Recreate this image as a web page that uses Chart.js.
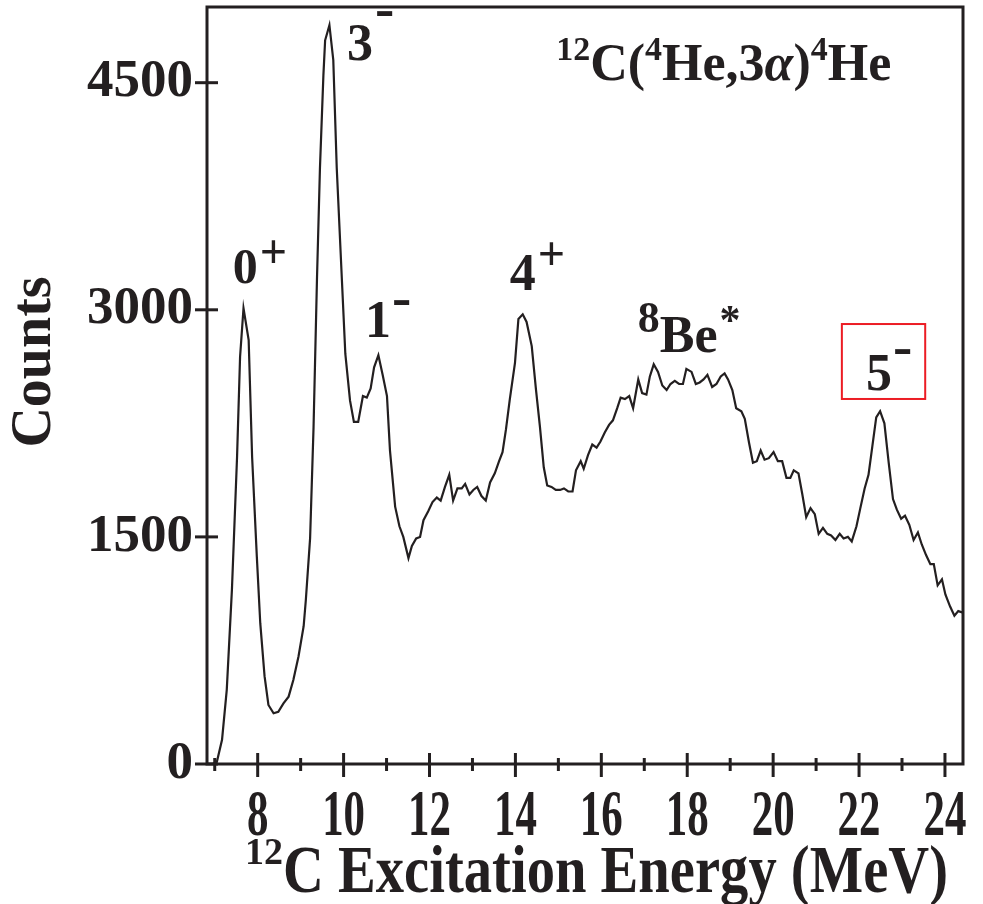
<!DOCTYPE html>
<html>
<head>
<meta charset="utf-8">
<script src="https://cdn.jsdelivr.net/npm/chart.js@4.4.1/dist/chart.umd.min.js"></script>
<style>
  html, body { margin: 0; padding: 0; background: #fff; }
  canvas { display: block; }
</style>
</head>
<body>
<canvas id="spectrum" width="983" height="904"></canvas>
<script>
// 12C excitation energy (MeV) and counts
const energies = [
  6.96, 7.05, 7.17, 7.28, 7.40, 7.52, 7.59, 7.67, 7.79, 7.87, 7.98, 8.06, 8.16, 8.25, 8.37, 8.48,
  8.60, 8.72, 8.83, 8.95, 9.07, 9.12, 9.22, 9.30, 9.38, 9.45, 9.53, 9.57, 9.67, 9.76, 9.84, 9.96,
  10.04, 10.15, 10.24, 10.34, 10.45, 10.54, 10.63, 10.71, 10.81, 10.91, 11.01, 11.08, 11.20, 11.30,
  11.39, 11.51, 11.59, 11.69, 11.78, 11.86, 11.97, 12.07, 12.17, 12.26, 12.36, 12.46, 12.55, 12.65,
  12.75, 12.83, 12.93, 13.02, 13.11, 13.21, 13.31, 13.41, 13.52, 13.62, 13.70, 13.78, 13.87, 13.99,
  14.07, 14.17, 14.26, 14.38, 14.48, 14.57, 14.66, 14.74, 14.84, 14.94, 15.04, 15.13, 15.23, 15.33,
  15.41, 15.52, 15.59, 15.69, 15.79, 15.89, 15.98, 16.08, 16.18, 16.27, 16.37, 16.45, 16.55, 16.65,
  16.74, 16.86, 16.95, 17.05, 17.13, 17.22, 17.32, 17.42, 17.52, 17.61, 17.71, 17.81, 17.90, 17.98,
  18.10, 18.20, 18.29, 18.38, 18.47, 18.58, 18.68, 18.78, 18.87, 18.95, 19.05, 19.14, 19.26, 19.34,
  19.44, 19.53, 19.62, 19.71, 19.80, 19.90, 20.01, 20.11, 20.21, 20.31, 20.40, 20.48, 20.59, 20.68,
  20.77, 20.87, 20.97, 21.06, 21.16, 21.26, 21.35, 21.45, 21.55, 21.64, 21.74, 21.83, 21.94, 22.03,
  22.13, 22.22, 22.31, 22.40, 22.49, 22.59, 22.69, 22.79, 22.88, 22.98, 23.07, 23.17, 23.27, 23.37,
  23.46, 23.56, 23.66, 23.74, 23.83, 23.93, 24.01, 24.12, 24.22, 24.31, 24.42
];
const counts = [
  0, 15, 160, 490, 1150, 2030, 2690, 3010, 2800, 2030, 1370, 930, 580, 390, 335, 345,
  400, 445, 555, 710, 910, 1080, 1490, 2220, 3200, 3940, 4550, 4780, 4880, 4650, 3940, 3200,
  2710, 2400, 2260, 2260, 2430, 2420, 2480, 2620, 2700, 2570, 2430, 2070, 1700, 1570,
  1500, 1360, 1440, 1490, 1500, 1610, 1670, 1730, 1760, 1740, 1830, 1910, 1740, 1820,
  1820, 1850, 1780, 1810, 1830, 1770, 1740, 1860, 1920, 2000, 2060, 2210, 2410, 2650,
  2940, 2970, 2920, 2760, 2470, 2230, 1960, 1840, 1830, 1810, 1810, 1820, 1800, 1800,
  1940, 2000, 1950, 2040, 2110, 2090, 2130, 2190, 2240, 2270, 2350, 2420, 2410, 2430,
  2350, 2540, 2450, 2440, 2560, 2640, 2590, 2500, 2470, 2510, 2530, 2510, 2510, 2610,
  2590, 2510, 2520, 2540, 2570, 2490, 2510, 2560, 2580, 2540, 2470, 2350, 2330, 2280,
  2120, 1990, 2000, 2070, 2010, 2020, 2060, 2000, 2000, 1890, 1890, 1940, 1920, 1780,
  1630, 1690, 1650, 1520, 1560, 1520, 1510, 1480, 1520, 1490, 1500, 1470, 1570, 1690,
  1820, 1910, 2100, 2290, 2330, 2250, 1990, 1750, 1680, 1620, 1640, 1580, 1480, 1530,
  1450, 1380, 1320, 1320, 1180, 1220, 1120, 1040, 980, 1010, 1000
];

const xRange = [6.82, 24.42];
const yRange = [0, 5000];
const yTickValues = [0, 1500, 3000, 4500];
const xLabelValues = [8, 10, 12, 14, 16, 18, 20, 22, 24];
const xMinorValues = [7, 9, 11, 13, 15, 17, 19, 21, 23];

const INK = '#231f20';
const SERIF = '"Liberation Serif", "Times New Roman", serif';

// state labels, anchored in data coordinates (left edge, baseline)
const peakLabels = [
  { at: [7.42, 3180], runs: [{ t: '0', size: 50 }, { t: '+', size: 48, dy: -15, dx: 2 }] },
  { at: [10.08, 4650], runs: [{ t: '3', size: 52 }, { t: '-', size: 58, dy: -33, dx: 2 }] },
  { at: [10.50, 2820], runs: [{ t: '1', size: 52 }, { t: '-', size: 58, dy: -21, dx: 1 }] },
  { at: [13.87, 3130], runs: [{ t: '4', size: 52 }, { t: '+', size: 48, dy: -20, dx: 2 }] },
  { at: [16.85, 2720], runs: [{ t: '8', size: 44, dy: -20 }, { t: 'Be', size: 52 }, { t: '*', size: 42, dy: -18, dx: 2 }] },
  { at: [22.16, 2470], runs: [{ t: '5', size: 52 }, { t: '-', size: 58, dy: -25, dx: 1 }] }
];
const reactionLabel = {
  at: [14.95, 4518],
  runs: [
    { t: '12', size: 34, dy: -20 }, { t: 'C(', size: 52 }, { t: '4', size: 34, dy: -20 },
    { t: 'He,3', size: 52 }, { t: 'α', size: 52, italic: true }, { t: ')', size: 52 },
    { t: '4', size: 34, dy: -20 }, { t: 'He', size: 52 }
  ]
};
const highlightBox = { x: [21.60, 23.54], y: [2411, 2906] };

function drawRuns(ctx, x, y, runs) {
  runs.forEach(r => {
    ctx.font = `${r.italic ? 'italic ' : ''}bold ${r.size}px ${SERIF}`;
    x += r.dx || 0;
    ctx.fillText(r.t, x, y + (r.dy || 0));
    x += ctx.measureText(r.t).width;
  });
}

function drawSqueezed(ctx, text, x, y, size, sx, align) {
  ctx.save();
  ctx.font = `bold ${size}px ${SERIF}`;
  ctx.textAlign = align;
  ctx.translate(x, y);
  ctx.scale(sx, 1);
  ctx.fillText(text, 0, 0);
  ctx.restore();
}

const framePlugin = {
  id: 'frame',
  afterDatasetsDraw(chart) {
    const { ctx, chartArea: a, scales: { x, y } } = chart;
    ctx.save();
    ctx.strokeStyle = INK;
    ctx.fillStyle = INK;

    // frame
    ctx.lineWidth = 3;
    ctx.strokeRect(a.left, a.top, a.right - a.left, a.bottom - a.top);

    // y ticks cross the left axis
    yTickValues.forEach(v => {
      const py = y.getPixelForValue(v);
      ctx.beginPath();
      ctx.moveTo(a.left - 12, py);
      ctx.lineTo(a.left + 11, py);
      ctx.stroke();
    });

    // x ticks cross the bottom axis
    xLabelValues.forEach(v => {
      const px = x.getPixelForValue(v);
      ctx.beginPath();
      ctx.moveTo(px, a.bottom - 11);
      ctx.lineTo(px, a.bottom + 13);
      ctx.stroke();
    });
    xMinorValues.forEach(v => {
      const px = x.getPixelForValue(v);
      ctx.beginPath();
      ctx.moveTo(px, a.bottom - 6);
      ctx.lineTo(px, a.bottom + 7);
      ctx.stroke();
    });

    // x tick labels, condensed bold serif
    xLabelValues.forEach(v => {
      drawSqueezed(ctx, String(v), x.getPixelForValue(v), a.bottom + 71, 66, 0.65, 'center');
    });

    // x axis title
    ctx.textAlign = 'left';
    ctx.font = `bold 38px ${SERIF}`;
    ctx.fillText('12', 245, 864);
    ctx.font = `bold 68px ${SERIF}`;
    const title = 'C Excitation Energy (MeV)';
    const sx = 665 / ctx.measureText(title).width;
    drawSqueezed(ctx, title, 283, 892, 68, sx, 'left');

    // y axis title
    ctx.save();
    ctx.translate(50, 362);
    ctx.rotate(-Math.PI / 2);
    ctx.textAlign = 'center';
    ctx.font = `bold 56px ${SERIF}`;
    ctx.fillText('Counts', 0, 0);
    ctx.restore();

    // peak labels and reaction
    ctx.textAlign = 'left';
    ctx.textBaseline = 'alphabetic';
    peakLabels.concat([reactionLabel]).forEach(l => {
      drawRuns(ctx, x.getPixelForValue(l.at[0]), y.getPixelForValue(l.at[1]), l.runs);
    });

    // red box round the 5- label
    const bx0 = x.getPixelForValue(highlightBox.x[0]);
    const bx1 = x.getPixelForValue(highlightBox.x[1]);
    const by0 = y.getPixelForValue(highlightBox.y[1]);
    const by1 = y.getPixelForValue(highlightBox.y[0]);
    ctx.strokeStyle = '#ec1c24';
    ctx.lineWidth = 2;
    ctx.strokeRect(bx0, by0, bx1 - bx0, by1 - by0);

    ctx.restore();
  }
};

new Chart(document.getElementById('spectrum'), {
  type: 'line',
  data: {
    datasets: [{
      data: energies.map((e, i) => ({ x: e, y: counts[i] })),
      borderColor: INK,
      borderWidth: 2.2,
      pointRadius: 0,
      tension: 0,
      fill: false
    }]
  },
  options: {
    responsive: false,
    animation: false,
    layout: { padding: { top: 7, right: 20, left: 0, bottom: 0 } },
    plugins: {
      legend: { display: false },
      tooltip: { enabled: false }
    },
    scales: {
      x: {
        type: 'linear',
        min: xRange[0],
        max: xRange[1],
        grid: { display: false, drawTicks: false },
        border: { display: false },
        ticks: { display: false },
        afterFit: s => { s.height = 140; s.paddingLeft = 0; s.paddingRight = 0; }
      },
      y: {
        min: yRange[0],
        max: yRange[1],
        grid: { display: false, drawTicks: false },
        border: { display: false },
        afterBuildTicks: s => { s.ticks = yTickValues.map(v => ({ value: v })); },
        ticks: {
          padding: 14,
          color: INK,
          font: { family: SERIF, size: 53, weight: 'bold' },
          callback: v => String(v)
        },
        afterFit: s => { s.width = 207; s.paddingTop = 0; s.paddingBottom = 0; }
      }
    }
  },
  plugins: [framePlugin]
});
</script>
</body>
</html>
